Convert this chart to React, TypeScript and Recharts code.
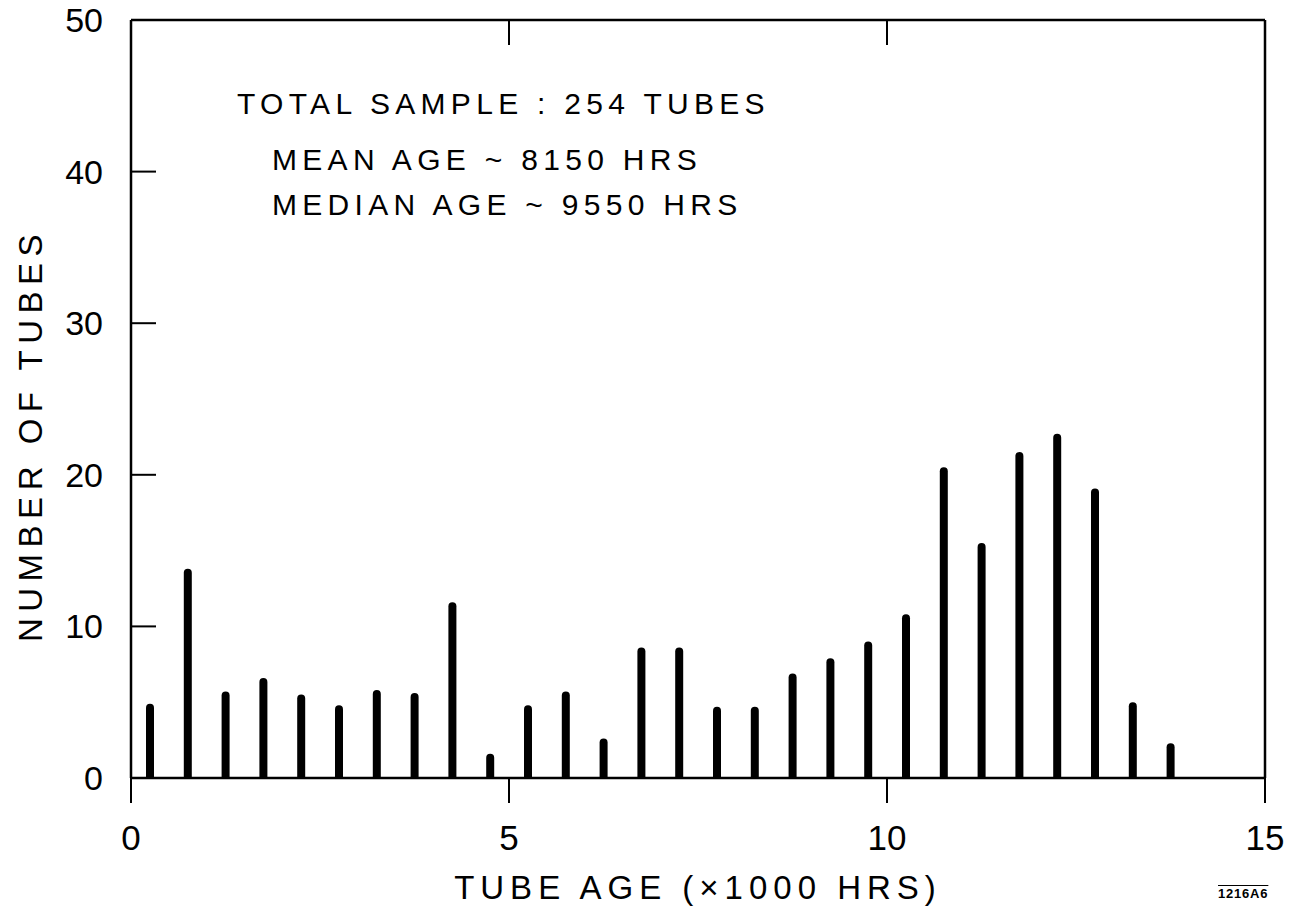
import { BarChart, Bar, XAxis, YAxis, Label } from "recharts";

// bin centres (x1000 hrs) and tube counts per bin
const ageBins = [0.25, 0.75, 1.25, 1.75, 2.25, 2.75, 3.25, 3.75, 4.25, 4.75, 5.25, 5.75, 6.25, 6.75, 7.25, 7.75, 8.25, 8.75, 9.25, 9.75, 10.25, 10.75, 11.25, 11.75, 12.25, 12.75, 13.25, 13.75];
const tubeCounts = [4.9, 13.8, 5.7, 6.6, 5.5, 4.8, 5.8, 5.6, 11.6, 1.6, 4.8, 5.7, 2.6, 8.6, 8.6, 4.7, 4.7, 6.9, 7.9, 9.0, 10.8, 20.5, 15.5, 21.5, 22.7, 19.1, 5.0, 2.3];
const xTicks = [0, 5, 10, 15];
const yTicks = [0, 10, 20, 30, 40, 50];
const notes = ["TOTAL SAMPLE : 254 TUBES", "MEAN AGE ~ 8150 HRS", "MEDIAN AGE ~ 9550 HRS"];

const data = ageBins.map((age, i) => ({ age, tubes: tubeCounts[i] }));

const FONT = '"Liberation Sans", Arial, sans-serif';
const ink = "#000";

const noteStyle = { position: "absolute" as const, fontSize: 30, letterSpacing: 5.3, lineHeight: "32px", color: ink, whiteSpace: "nowrap" as const };

// frame axes (top / right) carry tick marks only
const NoLabel = () => <g />;

export default function App() {
  return (
    <div style={{ position: "absolute", left: 0, top: 0, width: 1300, height: 911, background: "#fff", fontFamily: FONT }}>
      <BarChart width={1300} height={911} data={data} margin={{ top: 19, right: 34, bottom: 0, left: 0 }}>
        <XAxis
          dataKey="age"
          type="number"
          domain={[0, 15]}
          ticks={xTicks}
          interval={0}
          height={133}
          tickSize={25}
          tickMargin={22}
          axisLine={{ stroke: ink, strokeWidth: 2.5 }}
          tickLine={{ stroke: ink, strokeWidth: 2 }}
          tick={{ fill: ink, fontSize: 35, fontFamily: FONT }}
        >
          <Label
            content={({ viewBox }: any) => (
              <text x={viewBox.x + viewBox.width / 2} y={viewBox.y + 121} textAnchor="middle" fill={ink} fontSize={33} letterSpacing={6} fontFamily={FONT}>
                TUBE AGE (×1000 HRS)
              </text>
            )}
          />
        </XAxis>
        <XAxis
          xAxisId="top"
          orientation="top"
          dataKey="age"
          type="number"
          domain={[0, 15]}
          ticks={xTicks}
          interval={0}
          height={1}
          tickSize={-25}
          tick={NoLabel}
          axisLine={{ stroke: ink, strokeWidth: 2.5 }}
          tickLine={{ stroke: ink, strokeWidth: 2 }}
        />
        <YAxis
          type="number"
          domain={[0, 50]}
          ticks={yTicks}
          interval={0}
          width={131}
          tickSize={-25}
          tickMargin={53}
          axisLine={{ stroke: ink, strokeWidth: 2.5 }}
          tickLine={{ stroke: ink, strokeWidth: 2 }}
          tick={{ fill: ink, fontSize: 34, fontFamily: FONT }}
        >
          <Label
            content={({ viewBox }: any) => {
              const cx = viewBox.x + 30;
              const cy = viewBox.y + viewBox.height / 2 + 36;
              return (
                <text x={cx} y={cy} transform={`rotate(-90 ${cx} ${cy})`} textAnchor="middle" dominantBaseline="central" fill={ink} fontSize={33} letterSpacing={6.5} fontFamily={FONT}>
                  NUMBER OF TUBES
                </text>
              );
            }}
          />
        </YAxis>
        <YAxis
          yAxisId="right"
          orientation="right"
          type="number"
          domain={[0, 50]}
          ticks={yTicks}
          interval={0}
          width={1}
          tickSize={-25}
          tick={NoLabel}
          axisLine={{ stroke: ink, strokeWidth: 2.5 }}
          tickLine={{ stroke: ink, strokeWidth: 2 }}
        />
        <Bar dataKey="tubes" fill={ink} barSize={8} radius={[4, 4, 0, 0]} isAnimationActive={false} />
      </BarChart>

      <div style={{ ...noteStyle, left: 237, top: 88 }}>{notes[0]}</div>
      <div style={{ ...noteStyle, left: 272, top: 144 }}>{notes[1]}</div>
      <div style={{ ...noteStyle, left: 272, top: 189 }}>{notes[2]}</div>

      <div style={{ position: "absolute", left: 1218, top: 886, fontSize: 13, fontWeight: 700, textDecoration: "overline", color: ink, letterSpacing: 0.8 }}>1216A6</div>
    </div>
  );
}
